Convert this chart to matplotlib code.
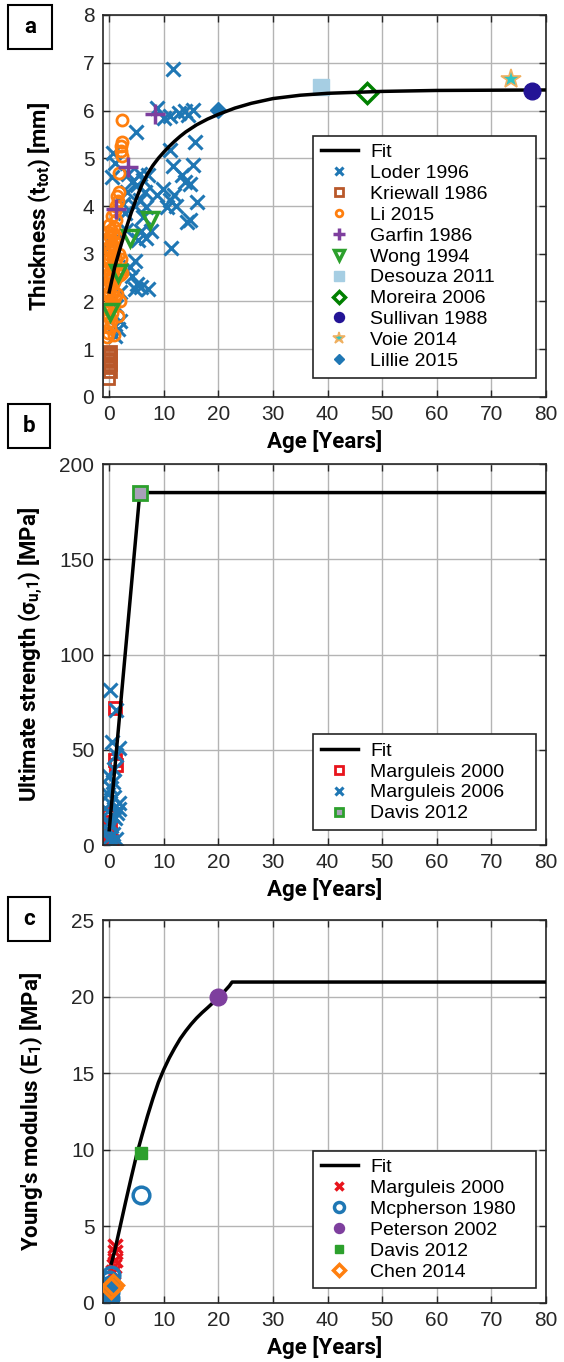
import matplotlib
matplotlib.use("Agg")
import matplotlib.pyplot as plt
from matplotlib.patches import Rectangle

plt.rcParams['font.family'] = ['Liberation Sans', 'DejaVu Sans']
plt.rcParams['mathtext.fontset'] = 'custom'
plt.rcParams['mathtext.rm'] = 'Roboto:bold'
plt.rcParams['mathtext.it'] = 'Roboto:bold'
plt.rcParams['mathtext.bf'] = 'Roboto:bold'
plt.rcParams['mathtext.default'] = 'rm'

# ---------------- panel a : thickness ----------------
fit_a_age = [0, 1, 2, 3, 4, 5, 6, 7, 8, 9, 10, 11, 12, 13, 14, 16, 18, 20, 23, 26, 30, 35,
             40, 50, 60, 80]
fit_a_val = [2.2, 2.72, 3.12, 3.5, 3.85, 4.17, 4.45, 4.67, 4.85, 5.0, 5.13, 5.25, 5.36, 5.46,
             5.55, 5.7, 5.82, 5.92, 6.05, 6.15, 6.25, 6.32, 6.36, 6.40, 6.42, 6.43]

loder_age = [8.7, 11.7, 11.2, 12.7, 13.9, 15.4, 4.9, 0.7, 1.0, 11.1, 15.7, 15.3, 11.7, 13.3,
             13.9, 14.8, 16.0, 11.1, 11.9, 10.5, 14.8, 14.2, 11.4, 8.7, 5.0, 6.2, 7.1, 5.6,
             6.5, 5.6, 4.7, 6.8, 6.2, 5.9, 6.8, 7.7, 5.3, 3.5, 4.1, 3.8, 4.7, 4.1, 5.0, 5.9,
             7.1, 4.7, 0.1, -0.5, 1.65, 1.0, 1.95, 2.9, 2.6, 3.2, 9.8, 12.2, 10.0, 14.5, 2.0,
             1.2, 0.5, 3.0]
loder_thk = [6.05, 6.87, 5.88, 5.95, 5.99, 6.02, 5.54, 5.1, 4.9, 5.17, 5.35, 4.86, 4.84, 4.65,
             4.5, 4.47, 4.09, 4.12, 4.23, 3.97, 3.7, 3.66, 3.11, 4.24, 4.44, 4.54, 4.65, 4.68,
             4.3, 4.12, 4.0, 3.97, 3.76, 3.47, 3.33, 3.47, 3.29, 4.68, 4.5, 2.73, 2.85, 2.54,
             2.37, 2.31, 2.27, 2.27, 3.27, 3.13, 1.42, 1.28, 1.6, 3.85, 4.05, 4.3, 4.35, 4.0,
             5.85, 5.9, 2.2, 1.9, 4.6, 3.5]

kriewall_age = [-0.2, 0.1, -0.1, 0.2, 0.0, -0.2, 0.1, -0.1, 0.2]
kriewall_thk = [0.4, 0.55, 0.62, 0.7, 0.75, 0.8, 0.85, 0.9, 0.95]

li_age = [-0.4, -0.2, 0.1, -0.3, 0.3, -0.1, 0.5, -0.4, 0.2, 0.8, -0.2, 0.4, 1.1, -0.5, 0.0,
          0.6, 1.4, -0.3, 0.3, 0.9, -0.1, 0.5, 1.2, -0.4, 0.1, 0.7, 1.6, -0.2, 0.4, 1.0, 2.0,
          -0.5, 0.0, 0.6, 1.3, -0.3, 0.2, 0.8, 2.2, -0.1, 0.5, 1.1, -0.4, 0.1, 0.7, 1.5, -0.2,
          0.3, 0.9, 0.0, 1.2, 0.5, 1.0, 1.3, 1.6, 1.4, 1.7, 1.8, 2.3, 2.1, 2.2, 2.4, 2.3, 1.9,
          1.6, 0.8, 2.4, 1.8]
li_thk = [1.25, 1.35, 1.45, 1.55, 1.6, 1.7, 1.75, 1.85, 1.9, 1.95, 2.0, 2.05, 2.1, 2.15, 2.2,
          2.25, 2.15, 2.3, 2.35, 2.4, 2.45, 2.5, 2.5, 2.55, 2.6, 2.65, 2.6, 2.7, 2.75, 2.8, 2.55,
          2.85, 2.9, 2.95, 2.9, 3.0, 3.05, 3.1, 2.9, 3.15, 3.2, 3.25, 3.3, 3.35, 3.4, 3.35, 3.45,
          3.5, 3.55, 3.6, 3.7, 3.8, 3.9, 4.0, 4.1, 4.2, 4.3, 4.7, 5.05, 5.15, 5.25, 5.35, 5.8,
          2.0, 1.7, 1.3, 2.6, 3.0]

garfin_age = [8.3, 3.5, 1.2]
garfin_thk = [5.92, 4.82, 3.94]
wong_age = [0.1, 1.65, 3.8, 7.5]
wong_thk = [1.79, 2.59, 3.34, 3.71]
desouza_age, desouza_thk = [38.8], [6.5]
moreira_age, moreira_thk = [47.2], [6.36]
sullivan_age, sullivan_thk = [77.4], [6.41]
voie_age, voie_thk = [73.5], [6.66]
lillie_age, lillie_thk = [20.0], [6.01]

# ---------------- panel b : ultimate strength ----------------
fit_b_age = [0.0, 5.6, 80]
fit_b_val = [8.0, 185.0, 185.0]

marg00_b_age = [1.05, 1.05, 1.2, -0.3, 0.0, -0.4, 0.2, -0.2, 0.1, -0.3, 0.3, -0.1, 0.5]
marg00_b_val = [71.7, 44.6, 42, 17, 15, 12, 10, 8, 6, 4, 2, 1, 0.5]
marg06_age = [0.13, 1.2, 0.5, 1.8, 1.2, 0.0, 0.6, 0.3, -0.2, 0.8, 0.2, 1.8, 1.8, -0.3, 0.5,
              1.0, 0.0, 0.4, -0.2, 0.7, 0.1, 1.2, 0.3, 1.5, 0.9]
marg06_val = [81.4, 70.9, 54, 51, 47, 36, 33, 30, 27, 25, 22, 22, 19, 18, 16, 14, 12, 10, 8,
              6, 4, 3, 1.5, 17, 40]
davis_b_age, davis_b_val = [5.6], [185.0]

# ---------------- panel c : Young's modulus ----------------
fit_c_age = [0.4, 1, 2, 3, 4, 5, 6, 7, 8, 9, 10, 11, 12, 13, 14, 15, 16, 17, 18, 19, 20, 21,
             22, 22.5, 80]
fit_c_val = [2.6, 3.4, 5.0, 6.6, 8.15, 9.65, 10.95, 12.2, 13.35, 14.4, 15.25, 16.0, 16.65,
             17.25, 17.75, 18.2, 18.6, 18.95, 19.27, 19.6, 19.9, 20.3, 20.7, 20.95, 20.95]

marg00_c_age = [1.0, 1.0, 1.0, 0.8, 0.7, 0.5, 0.3]
marg00_c_val = [3.7, 3.3, 2.8, 2.4, 2.0, 0.6, 0.2]
mcph_age = [5.8, 0.0, 0.1, -0.1, 0.2, 0.0, 0.1, -0.1, 0.3]
mcph_val = [7.05, 0.1, 0.3, 0.5, 0.7, 0.9, 1.2, 1.5, 1.8]
peterson_age, peterson_val = [20.0], [20.0]
davis_c_age, davis_c_val = [5.8], [9.8]
chen_age = [0.6, 0.4]
chen_val = [1.2, 0.95]

BLUE = '#1f77b4'
ORANGE = '#ff7f0e'
RED = '#e8141c'
GREEN = '#2ca02c'
PURPLE = '#7e3f9e'

W, H = 564, 1362
fig = plt.figure(figsize=(W / 100, H / 100), dpi=100)

def px_axes(top, bottom, left=102.7, right=546):
    return fig.add_axes([left / W, 1 - bottom / H, (right - left) / W, (bottom - top) / H])

def style(ax, ymax, ystep):
    ax.set_xlim(-1.2, 80)
    ax.set_ylim(0, ymax)
    ax.set_xticks(range(0, 81, 10))
    ax.set_yticks([ystep * i for i in range(int(round(ymax / ystep)) + 1)])
    ax.grid(True, color='#b4b4b4', lw=1.0)
    ax.set_axisbelow(True)
    ax.tick_params(direction='in', top=True, right=True, labelsize=15, length=5,
                   width=1, colors='#262626', pad=6)
    for s in ax.spines.values():
        s.set_color('#262626')
        s.set_linewidth(1.2)
    ax.set_xlabel('Age [Years]', fontsize=16, fontweight='bold', family='Roboto', labelpad=4)

def legend(ax, bottom):
    # MATLAB style box: fixed width, text left aligned
    leg = ax.legend(loc='lower left', bbox_to_anchor=(0.4744, bottom, 0.503, 0.1),
                    mode='expand', fontsize=14, frameon=True, fancybox=False,
                    edgecolor='#262626', framealpha=1, markerscale=0.6,
                    labelspacing=0.17, handlelength=1.9, handletextpad=0.65,
                    borderpad=0.4, borderaxespad=0)
    leg.get_frame().set_linewidth(1.2)

def box_label(ch, x0, y0, x1, y1):
    fig.add_artist(Rectangle((x0 / W, 1 - y1 / H), (x1 - x0) / W, (y1 - y0) / H,
                             transform=fig.transFigure, fill=False, lw=1.5, ec='black'))
    fig.text((x0 + x1) / 2 / W, 1 - (y0 + y1) / 2 / H, ch, ha='center', va='center',
             fontsize=16, fontweight='bold', family='Roboto')

# panel a
ax = px_axes(15, 397)
ax.plot(fit_a_age, fit_a_val, color='black', lw=2.5, label='Fit', zorder=5)
ax.plot(loder_age, loder_thk, 'x', color=BLUE, ms=10, mew=2.2, label='Loder 1996')
ax.plot(kriewall_age, kriewall_thk, 's', color='#b9582a', mfc='none', ms=9, mew=2, label='Kriewall 1986')
ax.plot(li_age, li_thk, 'o', color=ORANGE, mfc='none', ms=8, mew=2, label='Li 2015')
ax.plot(garfin_age, garfin_thk, '+', color=PURPLE, ms=14, mew=2.5, label='Garfin 1986')
ax.plot(wong_age, wong_thk, 'v', color=GREEN, mfc='none', ms=12, mew=2.5, label='Wong 1994')
ax.plot(desouza_age, desouza_thk, 's', color='#a6cee3', ms=11, label='Desouza 2011')
ax.plot(moreira_age, moreira_thk, 'D', color='#008000', mfc='none', ms=10, mew=2.5, label='Moreira 2006')
ax.plot(sullivan_age, sullivan_thk, 'o', color='#231496', ms=12, label='Sullivan 1988', zorder=6)
ax.plot(voie_age, voie_thk, '*', color='#2ec4c4', mec='#f0b060', ms=15, mew=1.2, label='Voie 2014')
ax.plot(lillie_age, lillie_thk, 'D', color=BLUE, ms=8, label='Lillie 2015')
style(ax, 8, 1)
ax.set_ylabel('Thickness (t$_{tot}$) [mm]', fontsize=16, fontweight='bold', family='Roboto')
ax.yaxis.set_label_coords(-0.112, 0.5)
legend(ax, 0.05)

# panel b
ax = px_axes(464, 845)
ax.plot(fit_b_age, fit_b_val, color='black', lw=2.5, label='Fit', zorder=5)
ax.plot(marg00_b_age, marg00_b_val, 's', color=RED, mfc='none', ms=9, mew=2, label='Marguleis 2000')
ax.plot(marg06_age, marg06_val, 'x', color=BLUE, ms=10, mew=2.2, label='Marguleis 2006')
ax.plot(davis_b_age, davis_b_val, 's', color=GREEN, mfc='#a8a0b8', ms=10, mew=2, label='Davis 2012', zorder=6)
style(ax, 200, 50)
ax.set_ylabel('Ultimate strength ($\\sigma_{u{,}1}$) [MPa]', fontsize=16, fontweight='bold', family='Roboto')
ax.yaxis.set_label_coords(-0.13, 0.5)
legend(ax, 0.039)

# panel c
ax = px_axes(920, 1303)
ax.plot(fit_c_age, fit_c_val, color='black', lw=2.5, label='Fit', zorder=5)
ax.plot(marg00_c_age, marg00_c_val, 'x', color=RED, ms=10, mew=2.5, label='Marguleis 2000')
ax.plot(mcph_age, mcph_val, 'o', color=BLUE, mfc='none', ms=12, mew=2.5, label='Mcpherson 1980')
ax.plot(peterson_age, peterson_val, 'o', color=PURPLE, ms=12, label='Peterson 2002', zorder=6)
ax.plot(davis_c_age, davis_c_val, 's', color=GREEN, ms=9, label='Davis 2012', zorder=6)
ax.plot(chen_age, chen_val, 'D', color=ORANGE, mfc='none', ms=10, mew=2.5, label='Chen 2014', zorder=6)
style(ax, 25, 5)
ax.set_ylabel("Young's modulus (E$_1$) [MPa]", fontsize=16, fontweight='bold', family='Roboto')
ax.yaxis.set_label_coords(-0.13, 0.5)
legend(ax, 0.038)

box_label('a', 8, 5, 52, 49)
box_label('b', 8, 404, 50, 448)
box_label('c', 8, 897, 50, 941)

fig.savefig('out.png', dpi=100)
